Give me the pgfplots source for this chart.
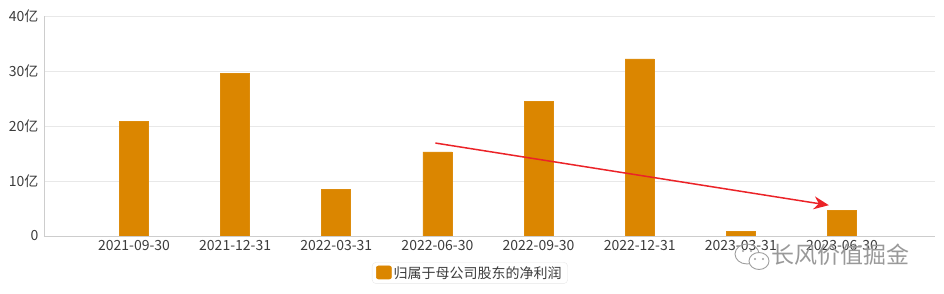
\documentclass[border=0pt]{standalone}
\usepackage{pgfplots}
\pgfplotsset{compat=1.18}
\usepackage{fontspec}
\setmainfont{Noto Sans CJK SC}
\usetikzlibrary{arrows.meta}

\definecolor{barorange}{RGB}{219,134,0}
\definecolor{gridgray}{RGB}{232,232,232}
\definecolor{axisgray}{RGB}{205,205,205}
\definecolor{labelgray}{RGB}{60,60,60}
\definecolor{arrowred}{RGB}{235,35,40}

\pgfplotstableread{
idx value
0 20.9
1 29.5
2 8.4
3 15.3
4 24.4
5 32.2
6 0.9
7 4.7
}\profit

\begin{document}
\begin{tikzpicture}
\path[use as bounding box] (0,0) rectangle (944pt,294pt);
\begin{axis}[
  at={(44pt,58pt)}, anchor=south west,
  scale only axis, width=891pt, height=220pt,
  xmin=-0.89, xmax=7.92, ymin=0, ymax=40,
  xtick=data,
  xticklabels={2021-09-30,2021-12-31,2022-03-31,2022-06-30,2022-09-30,2022-12-31,2023-03-31,2023-06-30},
  ytick={0,10,20,30,40},
  yticklabels={0,10亿,20亿,30亿,40亿},
  major tick length=0pt,
  ymajorgrids, grid style={gridgray, line width=0.8pt},
  axis line style={axisgray, line width=0.8pt},
  axis x line*=bottom, axis y line*=left,
  tick label style={labelgray, font=\fontsize{14}{15}\selectfont},
  xticklabel style={yshift=-1pt},
  yticklabel style={xshift=-2pt},
  legend style={at={(0.478,-0.168)}, anchor=center, draw=gridgray, rounded corners=4pt,
    font=\fontsize{14}{16}\selectfont, text=labelgray, inner xsep=4pt, inner ysep=2pt},
  legend image code/.code={\fill[barorange, rounded corners=2pt] (0pt,-6pt) rectangle (15pt,7pt);},
]
\addplot[ybar, bar width=29pt, fill=barorange, draw=barorange!95!white, line width=0.6pt]
  table[x=idx, y=value] {\profit};
\addlegendentry{归属于母公司股东的净利润}
\draw[arrowred, line width=1.5pt, -{Stealth[length=15pt, width=13pt]}]
  (axis cs:2.98,16.9) -- (axis cs:6.87,5.6);
\end{axis}
% watermark
\begin{scope}[gray!75, line width=0.9pt]
  \draw (747pt,40pt) ellipse (12pt and 10pt);
  \fill[white] (759pt,33pt) ellipse (10pt and 8.5pt);
  \draw (759pt,33pt) ellipse (10pt and 8.5pt);
  \fill (743pt,43pt) circle (1.2pt); \fill (751pt,43pt) circle (1.2pt);
  \fill (755pt,35pt) circle (1.1pt); \fill (763pt,35pt) circle (1.1pt);
\end{scope}
\node[gray!80, anchor=west, font=\fontsize{23}{24}\selectfont, inner sep=0pt] at (771pt,39pt) {长风价值掘金};
\end{tikzpicture}
\end{document}
